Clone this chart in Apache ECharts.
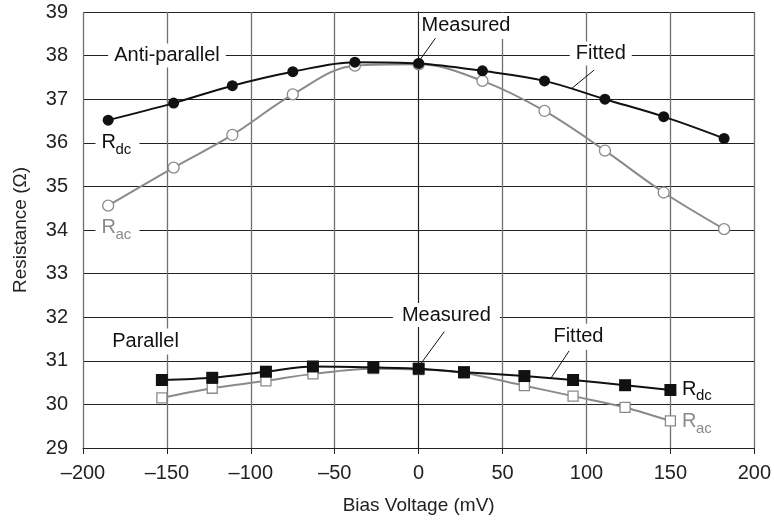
<!DOCTYPE html>
<html>
<head>
<meta charset="utf-8">
<script src="https://cdn.jsdelivr.net/npm/echarts@6/dist/echarts.min.js"></script>
<style>
  html, body { margin: 0; padding: 0; background: #fff; }
  #chart { width: 774px; height: 522px; }
</style>
</head>
<body>
<div id="chart"></div>
<script>
// anti-parallel state
const apVolt = [-185, -146, -111, -75, -38, 0, 38, 75, 111, 146, 182];
const apRdc = [36.52, 36.91, 37.31, 37.63, 37.85, 37.82, 37.65, 37.42, 37.0, 36.6, 36.1];
const apRac = [34.56, 35.43, 36.18, 37.11, 37.77, 37.8, 37.42, 36.73, 35.82, 34.86, 34.02];
// parallel state
const pVolt = [-153, -123, -91, -63, -27, 0, 27, 63, 92, 123, 150];
const pRdc = [30.56, 30.61, 30.75, 30.87, 30.85, 30.82, 30.74, 30.65, 30.56, 30.44, 30.33];
const pRac = [30.15, 30.37, 30.54, 30.70, 30.82, 30.8, 30.72, 30.43, 30.19, 29.93, 29.62];

const FONT = '"Liberation Sans", Arial, sans-serif';
const GRAY = '#8a8a8a';

const chartDom = document.getElementById('chart');
const myChart = echarts.init(chartDom);

const pairs = (xs, ys) => xs.map((x, i) => [x, ys[i]]);

const option = {
    animation: false,
    grid: { left: 83, right: 19, top: 12, bottom: 74 },
    xAxis: {
        type: 'value',
        min: -200, max: 200, interval: 50,
        name: 'Bias Voltage (mV)',
        nameLocation: 'middle',
        nameGap: 48,
        nameTextStyle: { fontFamily: FONT, fontSize: 19, color: '#222' },
        axisLine: { show: true, onZero: false, lineStyle: { color: '#222', width: 1 } },
        axisTick: { show: true, length: 6, lineStyle: { color: '#222' } },
        axisLabel: {
            fontFamily: FONT, fontSize: 20, color: '#222', margin: 15,
            formatter: v => v < 0 ? '\u2013' + Math.abs(v) : String(v)
        },
        splitLine: { show: true, lineStyle: { color: '#707070', width: 1.3 } }
    },
    yAxis: {
        type: 'value',
        min: 29, max: 39, interval: 1,
        name: 'Resistance (\u03A9)',
        nameLocation: 'middle',
        nameGap: 53,
        nameTextStyle: { fontFamily: FONT, fontSize: 19, color: '#222' },
        axisLine: { show: true, lineStyle: { color: '#222', width: 1 } },
        axisTick: { show: true, length: 6, lineStyle: { color: '#222' } },
        axisLabel: { fontFamily: FONT, fontSize: 20, color: '#222', margin: 15 },
        splitLine: { show: true, lineStyle: { color: '#222', width: 1 } }
    },
    series: [
        {
            name: 'AP Rac', type: 'line', smooth: 0.35,
            data: pairs(apVolt, apRac),
            symbol: 'circle', symbolSize: 11,
            lineStyle: { color: GRAY, width: 2 },
            itemStyle: { color: '#fff', borderColor: GRAY, borderWidth: 1.3 },
            z: 2
        },
        {
            name: 'AP Rdc', type: 'line', smooth: 0.35,
            data: pairs(apVolt, apRdc),
            symbol: 'circle', symbolSize: 11,
            lineStyle: { color: '#111', width: 2 },
            itemStyle: { color: '#111', borderColor: '#111', borderWidth: 0 },
            z: 3
        },
        {
            name: 'P Rac', type: 'line', smooth: 0.35,
            data: pairs(pVolt, pRac),
            symbol: 'rect', symbolSize: 10,
            lineStyle: { color: GRAY, width: 2 },
            itemStyle: { color: '#fff', borderColor: GRAY, borderWidth: 1.3 },
            z: 2
        },
        {
            name: 'P Rdc', type: 'line', smooth: 0.3,
            data: pairs(pVolt, pRdc),
            symbol: 'rect', symbolSize: 12,
            lineStyle: { color: '#111', width: 2 },
            itemStyle: { color: '#111', borderColor: '#111', borderWidth: 0 },
            z: 3
        }
    ]
};

myChart.setOption(option);

// annotations, placed in data coordinates
const toPx = (v, r) => myChart.convertToPixel({ gridIndex: 0 }, [v, r]);

const textEl = (text, v, r, align, color, size, bg, pad) => {
    const p = toPx(v, r);
    return {
        type: 'text', x: p[0], y: p[1], z: 100,
        style: {
            text: text, fill: color, font: size + 'px ' + FONT,
            align: align, verticalAlign: 'middle',
            backgroundColor: bg ? '#fff' : null,
            padding: pad || 0
        }
    };
};

const rLabel = (sub, v, r, color, bg) => {
    const p = toPx(v, r);
    const els = [];
    if (bg) {
        els.push({ type: 'rect', z: 99, shape: { x: p[0] - 6, y: p[1] - 12, width: 44, height: 26 }, style: { fill: '#fff' } });
    }
    els.push({ type: 'text', x: p[0], y: p[1], z: 100,
        style: { text: 'R', fill: color, font: '20px ' + FONT, align: 'left', verticalAlign: 'middle' } });
    els.push({ type: 'text', x: p[0] + 14, y: p[1] + 7, z: 100,
        style: { text: sub, fill: color, font: '15px ' + FONT, align: 'left', verticalAlign: 'middle' } });
    return els;
};

const leader = (v1, r1, v2, r2) => {
    const a = toPx(v1, r1), b = toPx(v2, r2);
    return { type: 'line', z: 100, shape: { x1: a[0], y1: a[1], x2: b[0], y2: b[1] }, style: { stroke: '#111', lineWidth: 1 } };
};

const graphics = [
    textEl('Anti-parallel', -185, 38.0, 'left', '#111', 20, true, [2, 6, 2, 6]),
    textEl('Measured', 28.2, 38.68, 'center', '#111', 20, true, [3, 2, 3, 2]),
    textEl('Fitted', 108.5, 38.05, 'center', '#111', 20, true, [2, 6, 2, 6]),
    leader(10, 38.4, 0, 37.86),
    leader(104.6, 37.67, 91.3, 37.25),
    ...rLabel('dc', -189, 36.0, '#111', true),
    ...rLabel('ac', -189, 34.05, GRAY, true),
    textEl('Parallel', -185, 31.44, 'left', '#111', 20, true, [3, 4, 3, 4]),
    textEl('Measured', 16.5, 32.05, 'center', '#111', 20, true, [2, 9, 2, 9]),
    textEl('Fitted', 95.2, 31.55, 'center', '#111', 20, true, [3, 4, 3, 4]),
    leader(15.3, 31.67, 1.4, 30.94),
    leader(89.7, 31.23, 78.8, 30.6),
    ...rLabel('dc', 156.9, 30.35, '#111', false),
    ...rLabel('ac', 156.9, 29.6, GRAY, false)
];

myChart.setOption({ graphic: graphics });
</script>
</body>
</html>
